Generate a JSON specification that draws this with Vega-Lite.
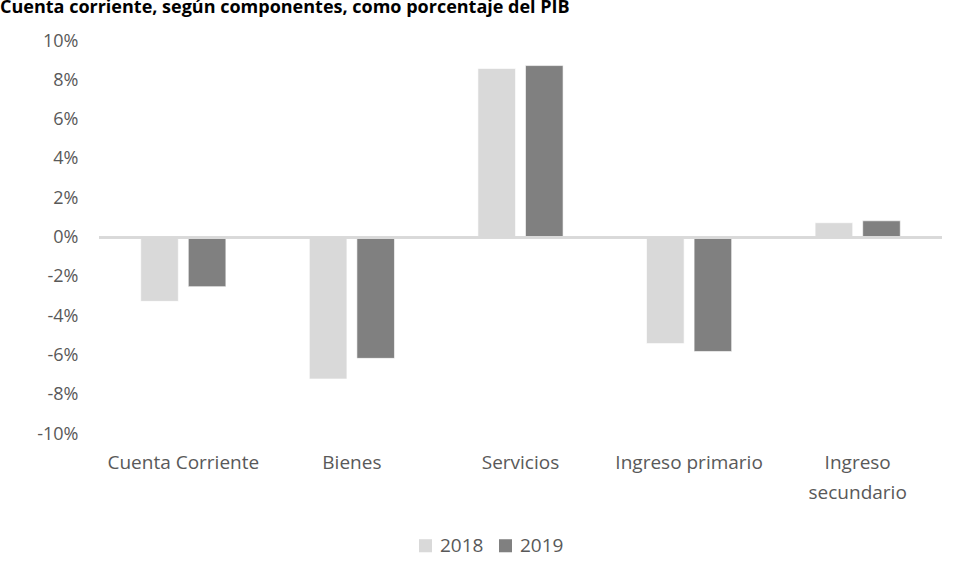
{
  "$schema": "https://vega.github.io/schema/vega-lite/v6.json",
  "autosize": "none",
  "width": 843,
  "height": 393,
  "padding": {"left": 99, "top": 41, "right": 18, "bottom": 146},
  "background": "white",
  "title": {
    "text": "Cuenta corriente, según componentes, como porcentaje del PIB",
    "anchor": "start",
    "frame": "group",
    "dx": -99,
    "offset": 1,
    "baseline": "alphabetic",
    "font": "Open Sans",
    "fontSize": 18,
    "fontWeight": "bold",
    "color": "#000000"
  },
  "data": {
    "values": [
      {"componente": "Cuenta Corriente", "anio": "2018", "valor": -0.0325},
      {"componente": "Cuenta Corriente", "anio": "2019", "valor": -0.025},
      {"componente": "Bienes", "anio": "2018", "valor": -0.072},
      {"componente": "Bienes", "anio": "2019", "valor": -0.0615},
      {"componente": "Servicios", "anio": "2018", "valor": 0.086},
      {"componente": "Servicios", "anio": "2019", "valor": 0.0875},
      {"componente": "Ingreso primario", "anio": "2018", "valor": -0.054},
      {"componente": "Ingreso primario", "anio": "2019", "valor": -0.058},
      {"componente": "Ingreso secundario", "anio": "2018", "valor": 0.0075},
      {"componente": "Ingreso secundario", "anio": "2019", "valor": 0.0085}
    ]
  },
  "layer": [
    {
      "mark": {"type": "bar", "stroke": "#ffffff", "strokeWidth": 0.6},
      "encoding": {
        "x": {
          "field": "componente",
          "type": "nominal",
          "sort": ["Cuenta Corriente", "Bienes", "Servicios", "Ingreso primario", "Ingreso secundario"],
          "scale": {"paddingInner": 0.495, "paddingOuter": 0.2475},
          "axis": {
            "title": null,
            "labelAngle": 0,
            "domain": false,
            "ticks": false,
            "labelPadding": 19,
            "labelBaseline": "top",
            "labelFont": "Open Sans",
            "labelFontSize": 19,
            "labelColor": "#595959",
            "labelLineHeight": 30,
            "labelExpr": "datum.value == 'Ingreso secundario' ? ['Ingreso', 'secundario'] : datum.value"
          }
        },
        "xOffset": {
          "field": "anio",
          "type": "nominal",
          "scale": {"paddingInner": 0.21, "paddingOuter": 0}
        },
        "y": {
          "field": "valor",
          "type": "quantitative",
          "scale": {"domain": [-0.1, 0.1], "nice": false},
          "axis": {
            "title": null,
            "values": [-0.1, -0.08, -0.06, -0.04, -0.02, 0, 0.02, 0.04, 0.06, 0.08, 0.1],
            "labelExpr": "replace(format(datum.value, '.0%'), '\u2212', '-')",
            "labelOverlap": false,
            "domain": false,
            "ticks": false,
            "grid": false,
            "labelPadding": 21,
            "labelFont": "Open Sans",
            "labelFontSize": 18,
            "labelColor": "#595959"
          }
        },
        "color": {
          "field": "anio",
          "type": "nominal",
          "scale": {"domain": ["2018", "2019"], "range": ["#D9D9D9", "#808080"]},
          "legend": {
            "title": null,
            "orient": "none",
            "direction": "horizontal",
            "legendX": 317,
            "legendY": 495,
            "symbolType": "square",
            "symbolSize": 170,
            "symbolStrokeWidth": 0,
            "labelFont": "Open Sans",
            "labelFontSize": 19,
            "labelColor": "#595959",
            "columnPadding": 12,
            "labelOffset": 5
          }
        }
      }
    },
    {
      "mark": {"type": "rule", "color": "#D9D9D9", "strokeWidth": 2},
      "encoding": {
        "y": {
          "datum": 0,
          "type": "quantitative",
          "axis": {
            "title": null,
            "values": [-0.1, -0.08, -0.06, -0.04, -0.02, 0, 0.02, 0.04, 0.06, 0.08, 0.1],
            "labelExpr": "replace(format(datum.value, '.0%'), '\u2212', '-')",
            "labelOverlap": false,
            "domain": false,
            "ticks": false,
            "grid": false,
            "labelPadding": 21,
            "labelFont": "Open Sans",
            "labelFontSize": 18,
            "labelColor": "#595959"
          }
        }
      }
    }
  ],
  "config": {"view": {"stroke": null}, "axisY": {"labelOverlap": false}}
}
